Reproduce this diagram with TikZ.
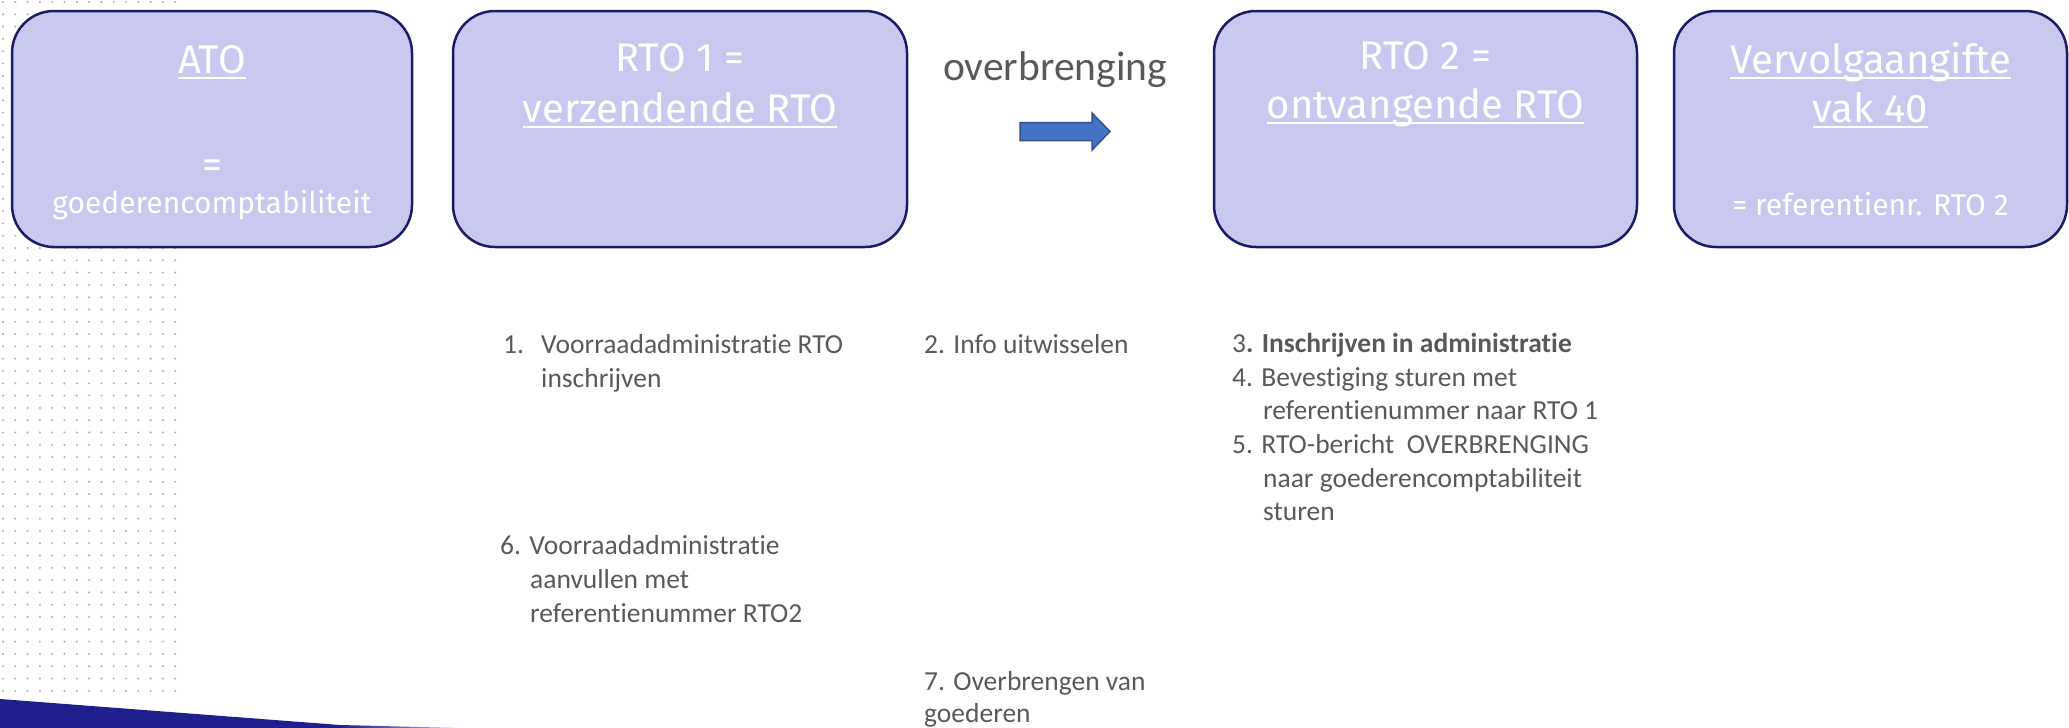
\documentclass[tikz,border=0pt]{standalone}
\usepackage{fontspec}
\setmainfont{Carlito}[Ligatures=NoCommon]
\newfontfamily\boxfont{Fira Sans}
\definecolor{boxfill}{HTML}{C9C8EF}
\definecolor{boxdraw}{HTML}{1B1B66}
\definecolor{arrowfill}{HTML}{4472C4}
\definecolor{arrowdraw}{HTML}{2F528F}
\definecolor{txtgrey}{HTML}{595959}
\definecolor{band}{HTML}{1E1E8C}
\definecolor{dotgrey}{HTML}{B4B4B4}
\newcommand{\myul}[1]{\setbox0\hbox{#1}\rlap{\rule[-6pt]{\wd0}{2.5pt}}\box0}
\begin{document}
\begin{tikzpicture}[x=1pt,y=-1pt,
  stage/.style={draw=boxdraw, fill=boxfill, line width=2.5pt, rounded corners=42pt, inner sep=0},
  boxtitle/.style={text=white, font=\boxfont\fontsize{40}{48}\selectfont, anchor=base, inner sep=0},
  boxsub/.style={text=white, font=\boxfont\fontsize{30}{36}\selectfont, anchor=base, inner sep=0},
  listline/.style={text=txtgrey, font=\fontsize{27.5}{33}\selectfont, anchor=base west, inner sep=0},
  bigword/.style={text=txtgrey, font=\fontsize{41.5}{50}\selectfont, anchor=base west, inner sep=0},
  flowarrow/.style={fill=arrowfill, draw=arrowdraw, line width=1.5pt, line join=miter}]
\useasboundingbox (0,0) rectangle (2069,728);
% dotted background pattern
\foreach \i in {0,...,14}{
  \foreach \j in {0,...,56}{
    \fill[dotgrey] (3+12.3*\i, 2+12.3*\j) circle (1.2);
  }
}
% bottom band
\fill[band] (0,699) -- (340,725) -- (340,729) -- (0,729) -- cycle;
\shade[left color=band, right color=white] (340,725) -- (520,729.5) -- (340,729.5) -- cycle;
% boxes
\node[stage, minimum width=400pt, minimum height=236pt] (ato) at (212,129) {};
\node[stage, minimum width=454pt, minimum height=236pt] (rto1) at (680,129) {};
\node[stage, minimum width=423pt, minimum height=236pt] (rto2) at (1425.5,129) {};
\node[stage, minimum width=393pt, minimum height=236pt] (verv) at (1870.5,129) {};
% box texts
\node[boxtitle] (atot) at (212,73) {\myul{ATO}};
\node[boxtitle] (atoeq) at (212,178) {=};
\node[boxsub] (atosub) at (212,213) {goederencomptabiliteit};
\node[boxtitle] (rto1a) at (680,71) {RTO 1 =};
\node[boxtitle] (rto1b) at (680,122) {\myul{verzendende RTO}};
\node[boxtitle] (rto2a) at (1425.5,69) {RTO 2 =};
\node[boxtitle] (rto2b) at (1425.5,118) {\myul{ontvangende RTO}};
\node[boxtitle] (verva) at (1870.5,73) {\myul{Vervolgaangifte}};
\node[boxtitle] (vervb) at (1870.5,122) {\myul{vak 40}};
\node[boxsub] (vervc) at (1870.5,215) {= referentienr. RTO 2};
% overbrenging + arrow
\node[bigword] (ovb) at (943,80) {overbrenging};
\coordinate (a1) at (1020,122.5);
\coordinate (a2) at (1092,122.5);
\coordinate (a3) at (1092,113);
\coordinate (a4) at (1110,131.5);
\coordinate (a5) at (1092,150);
\coordinate (a6) at (1092,140.5);
\coordinate (a7) at (1020,140.5);
\draw[flowarrow] (a1) -- (a2) -- (a3) -- (a4) -- (a5) -- (a6) -- (a7) -- cycle;
% list texts
\node[listline] (i1n) at (503,353) {1.};
\node[listline] (i1a) at (541,353) {Voorraadadministratie RTO};
\node[listline] (i1b) at (541,387) {inschrijven};
\node[listline] (i2) at (924,353) {2. Info uitwisselen};
\node[listline] (i3) at (1232,352) {3\textbf{. Inschrijven in administratie}};
\node[listline] (i4a) at (1232,386) {4. Bevestiging sturen met};
\node[listline] (i4b) at (1263,419) {referentienummer naar RTO 1};
\node[listline] (i5a) at (1232,453) {5. RTO-bericht\ \ OVERBRENGING};
\node[listline] (i5b) at (1263,487) {naar goederencomptabiliteit};
\node[listline] (i5c) at (1263,520) {sturen};
\node[listline] (i6a) at (500,554) {6. Voorraadadministratie};
\node[listline] (i6b) at (530,588) {aanvullen met};
\node[listline] (i6c) at (530,622) {referentienummer RTO2};
\node[listline] (i7a) at (924,690) {7. Overbrengen van};
\node[listline] (i7b) at (924,722) {goederen};
\end{tikzpicture}
\end{document}
